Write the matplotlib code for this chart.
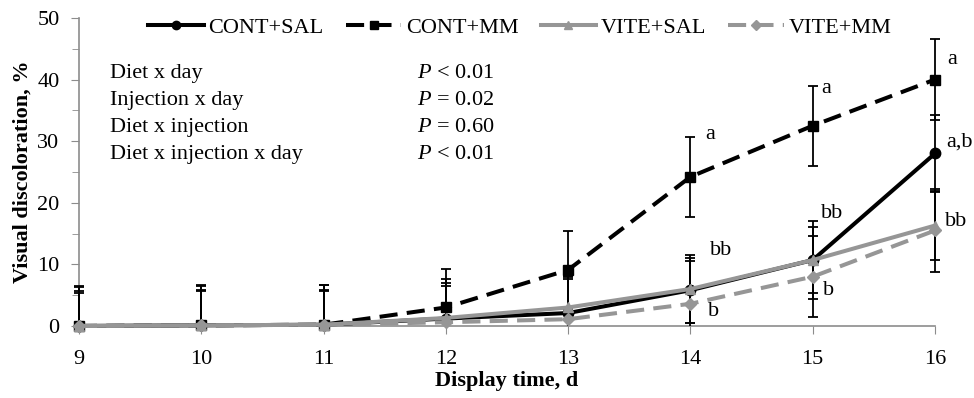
import matplotlib
matplotlib.use("Agg")
import matplotlib.pyplot as plt
from matplotlib.ticker import MultipleLocator
from matplotlib.patches import Rectangle

plt.rcParams['font.family'] = ['Liberation Serif', 'DejaVu Serif']
plt.rcParams['mathtext.fontset'] = 'custom'
plt.rcParams['mathtext.it'] = 'Liberation Serif:italic'
plt.rcParams['mathtext.rm'] = 'Liberation Serif'

days = [9, 10, 11, 12, 13, 14, 15, 16]
series_names = ['CONT+SAL', 'CONT+MM', 'VITE+SAL', 'VITE+MM']
cont_sal = [0.0, 0.1, 0.2, 1.2, 2.1, 5.8, 10.7, 28.0]
cont_mm = [0.0, 0.1, 0.2, 3.0, 9.1, 24.2, 32.5, 40.0]
vite_sal = [0.0, 0.1, 0.2, 1.3, 3.0, 6.0, 10.7, 16.3]
vite_mm = [0.0, 0.1, 0.2, 0.6, 1.1, 3.6, 8.0, 15.5]
err_cont_sal = [6.5, 6.5, 6.5, 6.4, 6.0, 5.3, 6.4, 6.3]
err_cont_mm = [6.3, 6.4, 6.4, 6.3, 6.3, 6.5, 6.5, 6.5]
err_vite_sal = [5.6, 5.7, 5.6, 5.7, 5.0, 5.5, 5.3, 5.6]
err_vite_mm = [5.4, 5.6, 5.5, 5.9, 6.6, 7.0, 6.6, 6.7]

stats_labels = ['Diet x day', 'Injection x day', 'Diet x injection', 'Diet x injection x day']
stats_p = [r'$P$ < 0.01', r'$P$ = 0.02', r'$P$ = 0.60', r'$P$ < 0.01']

letter_x = [14.12, 15.07, 16.1, 16.09, 14.16, 15.07, 16.08, 14.14, 15.08]
letter_y = [31.0, 38.6, 43.2, 29.8, 12.3, 18.3, 16.9, 2.3, 5.8]
letter_text = ['a', 'a', 'a', 'a,b', 'bb', 'bb', 'bb', 'b', 'b']

fig = plt.figure(figsize=(9.74, 3.98), dpi=100)
ax = fig.add_axes([0.081, 0.181, 0.879, 0.774])

gray = '#969696'
dash = (0, (4.5, 2.3))
styles = [
    dict(color='black', ls='-', marker='o', data=cont_sal, err=err_cont_sal),
    dict(color='black', ls=dash, marker='s', data=cont_mm, err=err_cont_mm),
    dict(color=gray, ls='-', marker='^', data=vite_sal, err=err_vite_sal),
    dict(color=gray, ls=dash, marker='D', data=vite_mm, err=err_vite_mm),
]

ax.set_xlim(9, 16)
ax.set_ylim(0, 50)

clip_rect = Rectangle((8.7, 0), 7.6, 60, transform=ax.transData, visible=False)
ax.add_patch(clip_rect)

for name, st in zip(series_names, styles):
    cont = ax.errorbar(days, st['data'], yerr=st['err'], fmt='none', ecolor='black',
                       elinewidth=1.3, capsize=3.8, capthick=1.3, zorder=2.7)
    for art in list(cont.lines[1]) + list(cont.lines[2]):
        art.set_clip_box(None)
        art.set_clip_path(clip_rect)
        art.set_zorder(2.7)

for name, st in zip(series_names, styles):
    ms = 6.5 if st['marker'] == 'D' else 7.5
    ax.plot(days, st['data'], color=st['color'], ls=st['ls'], lw=2.9,
            marker=st['marker'], ms=ms, label=name, zorder=3, clip_on=False)

for x, y, t in zip(letter_x, letter_y, letter_text):
    ax.text(x, y, t, fontsize=16, ha='left', va='center')

for i, (lab, p) in enumerate(zip(stats_labels, stats_p)):
    yy = 0.818 - i * 0.087
    ax.text(0.036, yy, lab, transform=ax.transAxes, fontsize=16, va='center')
    ax.text(0.395, yy, p, transform=ax.transAxes, fontsize=16, va='center')

ax.yaxis.set_major_locator(MultipleLocator(10))
ax.yaxis.set_minor_locator(MultipleLocator(5))
ax.xaxis.set_major_locator(MultipleLocator(1))
for s in ['top', 'right']:
    ax.spines[s].set_visible(False)
for s in ['left', 'bottom']:
    ax.spines[s].set_color('#8c8c8c')
    ax.spines[s].set_linewidth(1.2)
ax.tick_params(axis='both', which='both', color='#8c8c8c', direction='out', labelsize=16)
ax.tick_params(axis='y', which='major', length=6, pad=8)
ax.tick_params(axis='y', which='minor', length=5)
ax.tick_params(axis='x', which='major', length=6, pad=11)

ax.set_xlabel('Display time, d', fontsize=16, fontweight='bold', labelpad=2)
ax.set_ylabel('Visual discoloration, %', fontsize=16, fontweight='bold', labelpad=3)

leg = ax.legend(loc='upper center', bbox_to_anchor=(0.515, 1.068), ncol=4, frameon=False,
                fontsize=16, handlelength=2.5, columnspacing=1.0, handletextpad=0.2,
                markerscale=0.8)

fig.savefig('out.png', dpi=100)
